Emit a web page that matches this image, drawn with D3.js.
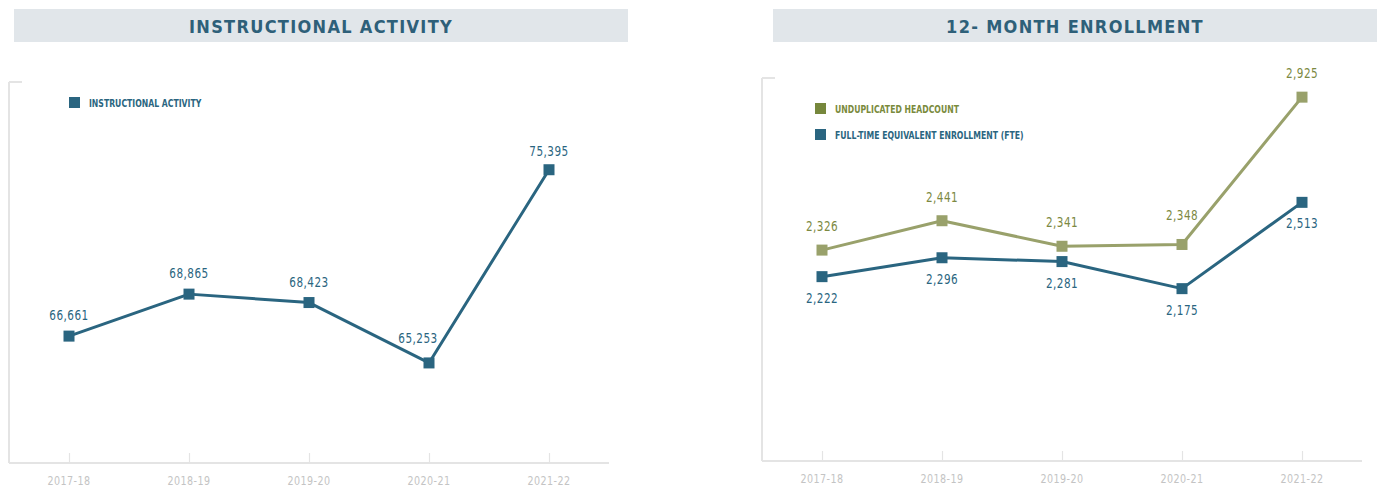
<!DOCTYPE html>
<html lang="en">
<head>
    <meta charset="UTF-8">
    <title>Instructional Activity / 12-Month Enrollment</title>
    <script src="https://cdnjs.cloudflare.com/ajax/libs/d3/7.8.5/d3.min.js"></script>
    <style>
        html, body { margin: 0; padding: 0; background: #fff; }
        svg { display: block; }
        text { font-family: "DejaVu Sans Condensed", "DejaVu Sans", sans-serif; }
    </style>
</head>
<body>
<svg id="chart" width="1377" height="488"></svg>
<script>
    // data
    const years = ["2017-18", "2018-19", "2019-20", "2020-21", "2021-22"];
    const instructional = [66661, 68865, 68423, 65253, 75395];
    const headcount = [2326, 2441, 2341, 2348, 2925];
    const fte = [2222, 2296, 2281, 2175, 2513];

    const blue = "#2a6580";
    const oliveLine = "#99a16b";
    const oliveText = "#7c8942";
    const axisGrey = "#e4e4e4";
    const tickText = "#c4c4c4";

    const svg = d3.select("#chart");
    const fmt = d3.format(",");

    // the original uses a DIN-style condensed face; squeeze the text horizontally to get close
    const squeeze = (x, y, sx) => `translate(${x},${y}) scale(${sx},1)`;

    function banner(x0, x1, title) {
        svg.append("rect")
            .attr("x", x0).attr("y", 9)
            .attr("width", x1 - x0).attr("height", 33)
            .attr("fill", "#e1e6ea");
        svg.append("text")
            .attr("x", (x0 + x1) / 2).attr("y", 33)
            .attr("text-anchor", "middle")
            .attr("fill", "#2e6079")
            .attr("font-size", 18)
            .attr("font-weight", "bold")
            .attr("letter-spacing", 1.3)
            .text(title);
    }

    function frame(x, y, axisLeft, axisTop, axisRight, axisBottom) {
        const g = svg.append("g");
        // y axis line + top cap
        g.append("line")
            .attr("x1", axisLeft).attr("x2", axisLeft)
            .attr("y1", axisTop).attr("y2", axisBottom)
            .attr("stroke", axisGrey).attr("stroke-width", 2);
        g.append("line")
            .attr("x1", axisLeft).attr("x2", axisLeft + 13)
            .attr("y1", axisTop).attr("y2", axisTop)
            .attr("stroke", axisGrey).attr("stroke-width", 2);

        const xAxis = d3.axisBottom(x).tickSize(0).tickPadding(0);
        const ax = g.append("g")
            .attr("transform", `translate(0,${axisBottom})`)
            .call(xAxis);
        ax.select(".domain").remove();
        ax.selectAll(".tick text").remove();
        ax.selectAll(".tick").append("line")
            .attr("y1", 0).attr("y2", -10)
            .attr("stroke", axisGrey).attr("stroke-width", 1.2);
        ax.append("line")
            .attr("x1", axisLeft).attr("x2", axisRight)
            .attr("y1", 0).attr("y2", 0)
            .attr("stroke", axisGrey).attr("stroke-width", 2);

        g.selectAll("text.year")
            .data(years)
            .join("text")
            .attr("class", "year")
            .attr("transform", d => squeeze(x(d), axisBottom + 22, 0.82))
            .attr("text-anchor", "middle")
            .attr("fill", tickText)
            .attr("font-size", 13)
            .attr("letter-spacing", 0.5)
            .text(d => d);
    }

    // nudge: optional {index: [dx, dy]} tweaks so a label clears its line
    function series(x, y, values, lineColor, labelColor, dy, nudge = {}) {
        const pts = years.map((d, i) => [x(d), y(values[i])]);
        svg.append("path")
            .attr("d", d3.line()(pts))
            .attr("fill", "none")
            .attr("stroke", lineColor)
            .attr("stroke-width", 3)
            .attr("stroke-linejoin", "round");
        svg.append("g").selectAll("rect")
            .data(pts)
            .join("rect")
            .attr("x", d => d[0] - 5.5)
            .attr("y", d => d[1] - 5.5)
            .attr("width", 11).attr("height", 11)
            .attr("fill", lineColor);
        svg.append("g").selectAll("text")
            .data(values)
            .join("text")
            .attr("transform", (d, i) => squeeze(
                x(years[i]) + (nudge[i] ? nudge[i][0] : 0),
                y(d) + dy + (nudge[i] ? nudge[i][1] : 0), 0.8))
            .attr("text-anchor", "middle")
            .attr("fill", labelColor)
            .attr("font-size", 14.5)
            .attr("font-weight", 500)
            .attr("letter-spacing", 0.6)
            .text(d => fmt(d));
    }

    function legendItem(x, y, color, textColor, label) {
        svg.append("rect")
            .attr("x", x).attr("y", y - 10)
            .attr("width", 11).attr("height", 11)
            .attr("fill", color);
        svg.append("text")
            .attr("transform", squeeze(x + 20, y, 0.86))
            .attr("fill", textColor)
            .attr("font-size", 10)
            .attr("font-weight", "bold")
            .text(label);
    }

    // ---- left: instructional activity ----
    banner(14, 628, "INSTRUCTIONAL ACTIVITY");
    const xL = d3.scalePoint().domain(years).range([69, 549]);
    const yL = d3.scaleLinear().domain([60000, 80000]).range([463, 82]);
    frame(xL, yL, 9, 82, 609, 463);
    series(xL, yL, instructional, blue, blue, -16, {3: [-11, -4], 4: [0, 2]});
    legendItem(69, 107, blue, blue, "INSTRUCTIONAL ACTIVITY");

    // ---- right: 12-month enrollment ----
    banner(773, 1377, "12- MONTH ENROLLMENT");
    const xR = d3.scalePoint().domain(years).range([822, 1302]);
    const yR = d3.scaleLinear().domain([1500, 3000]).range([461, 78]);
    frame(xR, yR, 762, 78, 1362, 461);
    series(xR, yR, headcount, oliveLine, oliveText, -19, {3: [0, -5]});
    series(xR, yR, fte, blue, blue, 26);
    legendItem(815, 113, "#76873c", "#7a8a3c", "UNDUPLICATED HEADCOUNT");
    legendItem(815, 139, blue, blue, "FULL-TIME EQUIVALENT ENROLLMENT (FTE)");
</script>
</body>
</html>
